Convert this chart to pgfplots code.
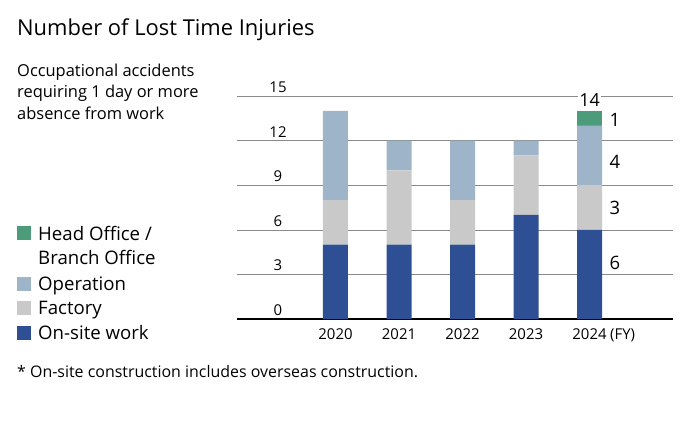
\documentclass[border=0pt]{standalone}
\usepackage{pgfplots}
\pgfplotsset{compat=1.18}
\usepackage{fontspec}
\setmainfont{Open Sans}
\definecolor{onsite}{HTML}{2F4F94}
\definecolor{factory}{HTML}{C9C9C9}
\definecolor{operation}{HTML}{9DB4C9}
\definecolor{headoff}{HTML}{4C9C7C}
\definecolor{gridc}{HTML}{8A8A8A}
\begin{document}
\begin{tikzpicture}[x=1bp,y=1bp]
\path[use as bounding box] (0,0) rectangle (690,420);
\node[anchor=base west,inner sep=0,font=\fontsize{22}{25}\selectfont] at (17,385) {Number of Lost Time Injuries};
\begin{scope}[every node/.style={anchor=base west,inner sep=0,font=\fontsize{16.5}{19}\selectfont}]
\node at (17,344) {Occupational accidents};
\node at (17,323) {requiring 1 day or more};
\node at (17,301) {absence from work};
\end{scope}
\node[anchor=base west,inner sep=0,font=\fontsize{16}{19}\selectfont] at (17,43) {* On-site construction includes overseas construction.};
\begin{scope}[every node/.style={anchor=base west,inner sep=0,font=\fontsize{18.7}{21}\selectfont}]
\fill[headoff] (17,180.5) rectangle (31,194.5);
\node at (38,180) {Head Office /};
\node at (38,156) {Branch Office};
\fill[operation] (17,129.5) rectangle (31,143.5);
\node at (38,130) {Operation};
\fill[factory] (17,105) rectangle (31,119);
\node at (38,106) {Factory};
\fill[onsite] (17,80.5) rectangle (31,94.5);
\node at (38,81) {On-site work};
\end{scope}
\begin{axis}[
  at={(237bp,101bp)}, anchor=south west,
  scale only axis, width=436bp, height=223bp,
  ybar stacked, bar width=25bp,
  xmin=-1.551, xmax=5.315, ymin=0, ymax=15,
  axis x line*=bottom, axis y line*=left,
  y axis line style={draw=none},
  x axis line style={black, line width=1.2pt, -},
  ytick={0,3,...,15},
  ymajorgrids, grid style={gridc, line width=0.6pt},
  xtick={0,1,2,3,4}, xticklabels={2020,2021,2022,2023,2024},
  major tick length=0pt,
  tick label style={font=\fontsize{15}{18}\selectfont},
  /pgf/number format/assume math mode=true,
  xticklabel style={anchor=base, yshift=-20bp, inner sep=0pt},
  yticklabel style={anchor=base, xshift=41bp, yshift=3.5bp, inner sep=0pt},
  clip=false,
]
\addplot[fill=onsite, draw=none] coordinates {(0,5) (1,5) (2,5) (3,7) (4,6)};
\addplot[fill=factory, draw=none] coordinates {(0,3) (1,5) (2,3) (3,4) (4,3)};
\addplot[fill=operation, draw=none] coordinates {(0,6) (1,2) (2,4) (3,1) (4,4)};
\addplot[fill=headoff, draw=none] coordinates {(0,0) (1,0) (2,0) (3,0) (4,1)};
\node[anchor=base west,inner sep=0,font=\fontsize{15}{18}\selectfont] at (axis cs:4,0) [xshift=20.5bp,yshift=-20bp] {(FY)};
\node[anchor=west,inner sep=0,font=\fontsize{18.5}{21}\selectfont] at (axis cs:4,13.4) [xshift=20bp] {1};
\node[anchor=west,inner sep=0,font=\fontsize{18.5}{21}\selectfont] at (axis cs:4,10.6) [xshift=20bp] {4};
\node[anchor=west,inner sep=0,font=\fontsize{18.5}{21}\selectfont] at (axis cs:4,7.45) [xshift=20bp] {3};
\node[anchor=west,inner sep=0,font=\fontsize{18.5}{21}\selectfont] at (axis cs:4,3.75) [xshift=20bp] {6};
\node[anchor=center,fill=white,inner xsep=1pt,inner ysep=0pt,font=\fontsize{18}{21}\selectfont] at (axis cs:4,14.75) {14};
\end{axis}
\end{tikzpicture}
\end{document}
